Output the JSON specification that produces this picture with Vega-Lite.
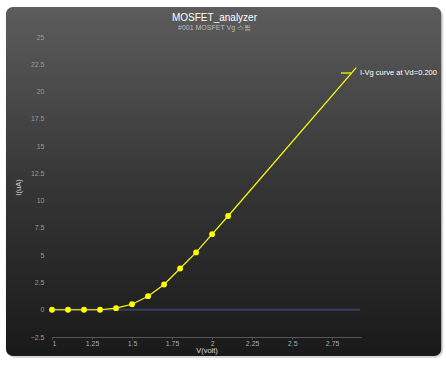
{
  "$schema": "https://vega.github.io/schema/vega-lite/v6.json",
  "autosize": "none",
  "width": 309,
  "height": 300,
  "padding": {"left": 52, "top": 37, "right": 85, "bottom": 29},
  "background": "#ffffff",
  "config": {
    "view": {"stroke": null},
    "font": "Liberation Sans",
    "axis": {"labelFont": "Liberation Sans", "titleFont": "Liberation Sans", "labelOverlap": false}
  },
  "title": {
    "text": "MOSFET_analyzer",
    "subtitle": "#001 MOSFET Vg 스윕",
    "anchor": "middle",
    "frame": "group",
    "dx": 8,
    "offset": -24,
    "zindex": 2,
    "color": "#ffffff",
    "fontSize": 10,
    "fontWeight": "normal",
    "font": "Liberation Sans",
    "subtitleColor": "#bbbbbb",
    "subtitleFontSize": 7,
    "subtitleFont": "Liberation Sans",
    "subtitlePadding": 1
  },
  "datasets": {
    "curve": [
      {"V": 1.0, "I": 0.0, "series": "I-Vg curve at Vd=0.200"},
      {"V": 1.1, "I": 0.0, "series": "I-Vg curve at Vd=0.200"},
      {"V": 1.2, "I": 0.0, "series": "I-Vg curve at Vd=0.200"},
      {"V": 1.3, "I": 0.0, "series": "I-Vg curve at Vd=0.200"},
      {"V": 1.4, "I": 0.14, "series": "I-Vg curve at Vd=0.200"},
      {"V": 1.5, "I": 0.5, "series": "I-Vg curve at Vd=0.200"},
      {"V": 1.6, "I": 1.24, "series": "I-Vg curve at Vd=0.200"},
      {"V": 1.7, "I": 2.31, "series": "I-Vg curve at Vd=0.200"},
      {"V": 1.8, "I": 3.78, "series": "I-Vg curve at Vd=0.200"},
      {"V": 1.9, "I": 5.25, "series": "I-Vg curve at Vd=0.200"},
      {"V": 2.0, "I": 6.93, "series": "I-Vg curve at Vd=0.200"},
      {"V": 2.1, "I": 8.59, "series": "I-Vg curve at Vd=0.200"},
      {"V": 2.9, "I": 22.2, "series": "I-Vg curve at Vd=0.200"}
    ]
  },
  "layer": [
    {
      "data": {"values": [{}]},
      "mark": {"type": "rect", "fill": "#bdbdbd", "cornerRadius": 8, "opacity": 0.6},
      "encoding": {
        "x": {"datum": 0.725, "type": "quantitative"},
        "x2": {"datum": 3.44375},
        "y": {"datum": 27.57, "type": "quantitative"},
        "y2": {"datum": -4.42}
      }
    },
    {
      "data": {"values": [{}]},
      "mark": {
        "type": "rect",
        "cornerRadius": 7,
        "fill": {
          "gradient": "linear",
          "x1": 0, "y1": 0, "x2": 0, "y2": 1,
          "stops": [
            {"offset": 0, "color": "#5c5c5c"},
            {"offset": 0.5, "color": "#363636"},
            {"offset": 1, "color": "#191919"}
          ]
        }
      },
      "encoding": {
        "x": {"datum": 0.7125, "type": "quantitative"},
        "x2": {"datum": 3.43125},
        "y": {"datum": 27.75, "type": "quantitative"},
        "y2": {"datum": -4.24}
      }
    },
    {
      "data": {"values": [{}]},
      "mark": {"type": "rule", "color": "#33405f", "strokeWidth": 2},
      "encoding": {
        "x": {"datum": 1, "type": "quantitative"},
        "x2": {"datum": 2.925},
        "y": {"datum": 0, "type": "quantitative"}
      }
    },
    {
      "data": {"name": "curve"},
      "mark": {"type": "line", "strokeWidth": 1.2},
      "encoding": {
        "x": {
          "field": "V", "type": "quantitative",
          "scale": {"domain": [1, 2.93], "nice": false, "zero": false},
          "axis": {
            "title": "V(volt)",
            "zindex": 1,
            "format": ".2~f",
            "tickCount": 20,
            "labelOverlap": false,
            "values": [1, 1.25, 1.5, 1.75, 2, 2.25, 2.5, 2.75],
            "grid": false,
            "domainColor": "#555555",
            "tickColor": "#555555",
            "tickSize": 2,
            "labelColor": "#aaaaaa",
            "labelFontSize": 7,
            "labelPadding": 0,
            "titleColor": "#dddddd",
            "titleFontSize": 7.5,
            "titleFontWeight": "normal",
            "titlePadding": 0
          }
        },
        "y": {
          "field": "I", "type": "quantitative",
          "scale": {"domain": [-2.5, 25], "nice": false, "zero": false},
          "axis": {
            "title": "I(uA)",
            "zindex": 1,
            "format": ".1~f",
            "tickCount": 20,
            "labelOverlap": false,
            "values": [-2.5, 0, 2.5, 5, 7.5, 10, 12.5, 15, 17.5, 20, 22.5, 25],
            "domain": false,
            "ticks": false,
            "gridColor": "#ffffff",
            "gridOpacity": 0.09,
            "labelColor": "#999999",
            "labelFontSize": 7,
            "labelPadding": 8,
            "titleColor": "#cccccc",
            "titleFontSize": 7.5,
            "titleFontWeight": "normal",
            "titlePadding": 8
          }
        },
        "color": {
          "field": "series", "type": "nominal",
          "scale": {"range": ["#ffff00"]},
          "legend": {
            "title": null,
            "orient": "none",
            "legendX": 288,
            "legendY": 30,
            "padding": 0,
            "zindex": 2,
            "symbolType": "stroke",
            "symbolSize": 100,
            "symbolStrokeWidth": 1.2,
            "labelColor": "#ffffff",
            "labelFontSize": 7.5,
            "labelFont": "Liberation Sans",
            "labelOffset": 8
          }
        }
      }
    },
    {
      "data": {"name": "curve"},
      "transform": [{"filter": "datum.V <= 2.1"}],
      "mark": {"type": "point", "filled": true, "color": "#ffff00", "opacity": 1, "size": 34},
      "encoding": {
        "x": {"field": "V", "type": "quantitative"},
        "y": {"field": "I", "type": "quantitative"}
      }
    }
  ]
}
